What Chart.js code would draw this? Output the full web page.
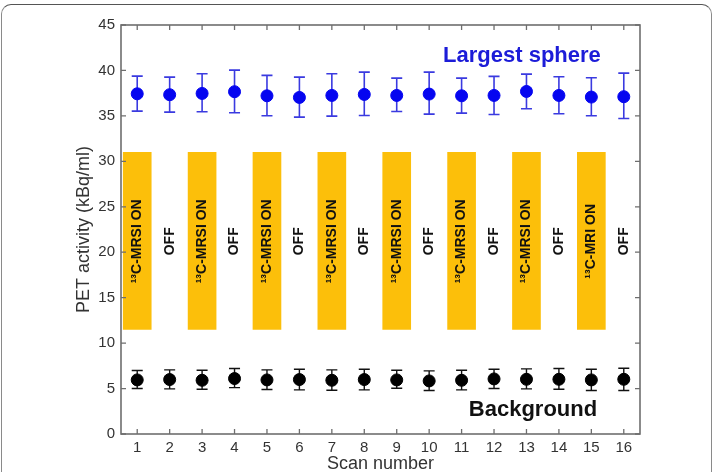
<!DOCTYPE html>
<html>
<head>
<meta charset="utf-8">
<script src="https://cdn.jsdelivr.net/npm/chart.js@4/dist/chart.umd.min.js"></script>
<style>
  html, body { margin: 0; padding: 0; background: #fff; }
  #wrap { position: relative; width: 715px; height: 472px; overflow: hidden; }
  #card { position: absolute; left: 1px; top: 4px; width: 711px; height: 480px;
          border: 1px solid #8a8a8a; border-top-color: #555; border-radius: 10px; box-sizing: border-box; }
  #chart { position: absolute; left: 0; top: 0; }
</style>
</head>
<body>
<div id="wrap">
  <div id="card"></div>
  <canvas id="chart" width="715" height="472"></canvas>
</div>
<script>
const scans = [1, 2, 3, 4, 5, 6, 7, 8, 9, 10, 11, 12, 13, 14, 15, 16];

// largest sphere: mean and error-bar ends
const sphereMean = [37.43, 37.33, 37.47, 37.66, 37.21, 37.03, 37.25, 37.36, 37.25, 37.40, 37.21, 37.25, 37.69, 37.25, 37.07, 37.11];
const sphereHigh = [39.38, 39.27, 39.64, 40.04, 39.46, 39.27, 39.64, 39.82, 39.16, 39.82, 39.16, 39.35, 39.60, 39.31, 39.20, 39.71];
const sphereLow  = [35.52, 35.41, 35.45, 35.34, 35.01, 34.86, 34.97, 35.05, 35.49, 35.19, 35.30, 35.16, 35.78, 35.23, 35.01, 34.72];

// background
const bgMean = [5.95, 5.99, 5.91, 6.10, 5.95, 5.99, 5.91, 5.99, 5.95, 5.84, 5.91, 6.06, 6.02, 6.02, 5.95, 6.02];
const bgHigh = [6.98, 7.05, 7.02, 7.20, 7.05, 7.13, 7.05, 7.13, 7.02, 6.94, 7.02, 7.13, 7.16, 7.20, 7.13, 7.24];
const bgLow  = [5.00, 4.96, 4.92, 5.10, 4.89, 4.85, 4.81, 4.85, 5.03, 4.78, 4.85, 5.00, 4.96, 4.92, 4.78, 4.78];

// 13C acquisition periods (orange blocks)
const onScans = [1, 3, 5, 7, 9, 11, 13, 15];
const onBottom = [11.5, 11.5, 11.5, 11.5, 11.5, 11.5, 11.5, 11.5];
const onTop = [31, 31, 31, 31, 31, 31, 31, 31];
const scanLabels = ["¹³C-MRSI ON", "OFF", "¹³C-MRSI ON", "OFF", "¹³C-MRSI ON", "OFF", "¹³C-MRSI ON", "OFF",
                    "¹³C-MRSI ON", "OFF", "¹³C-MRSI ON", "OFF", "¹³C-MRSI ON", "OFF", "¹³C-MRI ON", "OFF"];
const labelLevel = 21.2;

const yTicks = [0, 5, 10, 15, 20, 25, 30, 35, 40, 45];

const FONT = "'Liberation Sans', Arial, Helvetica, sans-serif";
const BLUE = "#0505f0";
const ORANGE = "#fcbf0a";
const AXIS = "#6e6e6e";

// error bars go under the points
const errorBars = {
  id: "errorBars",
  beforeDatasetsDraw(chart) {
    const { ctx, scales: { x, y } } = chart;
    const sets = [
      { high: sphereHigh, low: sphereLow, color: "#3a3ae0", width: 1.6 },
      { high: bgHigh, low: bgLow, color: "#111", width: 1.4 },
    ];
    ctx.save();
    for (const s of sets) {
      ctx.strokeStyle = s.color;
      ctx.lineWidth = s.width;
      scans.forEach((scan, i) => {
        const px = x.getPixelForValue(scan);
        const top = y.getPixelForValue(s.high[i]);
        const bot = y.getPixelForValue(s.low[i]);
        ctx.beginPath();
        ctx.moveTo(px, top); ctx.lineTo(px, bot);
        ctx.moveTo(px - 5.5, top); ctx.lineTo(px + 5.5, top);
        ctx.moveTo(px - 5.5, bot); ctx.lineTo(px + 5.5, bot);
        ctx.stroke();
      });
    }
    ctx.restore();
  }
};

const frame = {
  id: "frame",
  afterDraw(chart) {
    const { ctx, chartArea: a, scales: { x, y } } = chart;
    ctx.save();
    ctx.strokeStyle = AXIS;
    ctx.lineWidth = 1.6;
    ctx.strokeRect(a.left, a.top, a.right - a.left, a.bottom - a.top);
    ctx.lineWidth = 1.3;
    ctx.beginPath();
    for (const s of scans) {
      const px = x.getPixelForValue(s);
      ctx.moveTo(px, a.bottom); ctx.lineTo(px, a.bottom - 5);
      ctx.moveTo(px, a.top); ctx.lineTo(px, a.top + 5);
    }
    for (const v of yTicks) {
      const py = y.getPixelForValue(v);
      ctx.moveTo(a.left, py); ctx.lineTo(a.left + 5, py);
      ctx.moveTo(a.right, py); ctx.lineTo(a.right - 5, py);
    }
    ctx.stroke();

    // block labels, rotated
    ctx.fillStyle = "#111";
    ctx.font = "bold 14px " + FONT;
    ctx.textAlign = "center";
    ctx.textBaseline = "middle";
    scans.forEach((s, i) => {
      ctx.save();
      ctx.translate(x.getPixelForValue(s), y.getPixelForValue(labelLevel));
      ctx.rotate(-Math.PI / 2);
      ctx.fillText(scanLabels[i], 0, 0);
      ctx.restore();
    });

    // series names
    ctx.font = "bold 22px " + FONT;
    ctx.fillStyle = "#1c1cd8";
    ctx.fillText("Largest sphere", x.getPixelForValue(12.86), y.getPixelForValue(41.6));
    ctx.fillStyle = "#111";
    ctx.fillText("Background", x.getPixelForValue(13.2), y.getPixelForValue(2.65));
    ctx.restore();
  }
};

new Chart(document.getElementById("chart"), {
  type: "scatter",
  data: {
    datasets: [
      {
        label: "Largest sphere",
        data: scans.map((s, i) => ({ x: s, y: sphereMean[i] })),
        backgroundColor: BLUE,
        borderColor: BLUE,
        pointRadius: 6,
        pointHoverRadius: 6,
        order: 0,
      },
      {
        label: "Background",
        data: scans.map((s, i) => ({ x: s, y: bgMean[i] })),
        backgroundColor: "#000",
        borderColor: "#000",
        pointRadius: 6,
        pointHoverRadius: 6,
        order: 0,
      },
      {
        type: "bar",
        label: "13C on",
        data: onScans.map((s, i) => ({ x: s, y: [onBottom[i], onTop[i]] })),
        backgroundColor: ORANGE,
        borderWidth: 0,
        barThickness: 28,
        order: 5,
      },
    ],
  },
  options: {
    responsive: false,
    animation: false,
    events: [],
    layout: { padding: { left: 69, top: 25, right: 75, bottom: 0 } },
    plugins: { legend: { display: false }, tooltip: { enabled: false } },
    scales: {
      x: {
        type: "linear",
        offset: false,
        min: 0.5,
        max: 16.5,
        grid: { display: false, drawTicks: false, offset: false },
        border: { display: false },
        afterBuildTicks: (s) => { s.ticks = scans.map((v) => ({ value: v })); },
        afterFit: (s) => { s.height = 38; },
        ticks: { color: "#333", padding: 5, maxRotation: 0, font: { family: FONT, size: 15 } },
        title: {
          display: true, text: "Scan number", color: "#333",
          padding: { top: 0, bottom: -1 }, font: { family: FONT, size: 18, lineHeight: 1 },
        },
      },
      y: {
        min: 0,
        max: 45,
        grid: { display: false, drawTicks: false },
        border: { display: false },
        afterBuildTicks: (s) => { s.ticks = yTicks.map((v) => ({ value: v })); },
        afterFit: (s) => { s.width = 52; },
        ticks: { color: "#333", padding: 6, font: { family: FONT, size: 15 } },
        title: {
          display: true, text: "PET activity (kBq/ml)", color: "#333",
          padding: 4, font: { family: FONT, size: 18, lineHeight: 1.2 },
        },
      },
    },
  },
  plugins: [frame, errorBars],
});
</script>
</body>
</html>
